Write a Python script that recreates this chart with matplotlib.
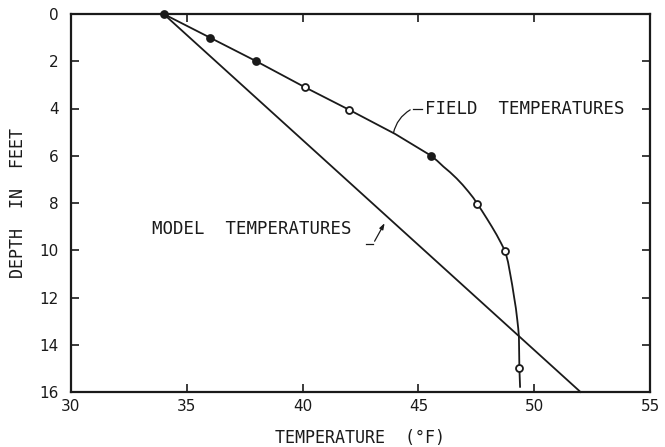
import numpy as np
import matplotlib
matplotlib.use("Agg")
import matplotlib.pyplot as plt

# measured field temperatures (deg F) vs depth (ft)
field_temp = [34.0, 36.0, 38.0, 40.1, 42.0, 45.55, 47.55, 48.75, 49.36]
field_depth = [0.0, 1.0, 2.0, 3.1, 4.05, 6.0, 8.04, 10.05, 15.0]
field_filled = [True, True, True, False, False, True, False, False, False]

# hand-drawn curve through the field points
curve_temp = [34.0, 36.0, 38.0, 40.1, 42.0, 44.0, 45.55, 45.82, 46.08,
              46.37, 46.65, 46.91, 47.16, 47.37, 47.55, 47.75, 47.95,
              48.17, 48.38, 48.57, 48.75, 48.87, 48.96, 49.05, 49.13,
              49.21, 49.27, 49.31, 49.34, 49.35, 49.36, 49.39]
curve_depth = [0.0, 1.0, 2.0, 3.1, 4.05, 5.08, 6.0, 6.22, 6.46,
               6.7, 6.96, 7.23, 7.52, 7.78, 8.04, 8.34, 8.65,
               9.0, 9.35, 9.7, 10.05, 10.5, 10.98, 11.47, 11.97,
               12.46, 12.95, 13.3, 13.66, 14.3, 15.0, 15.78]

# model temperatures: straight line
model_temp = [34.0, 52.0]
model_depth = [0.0, 16.0]

xticks = [30, 35, 40, 45, 50, 55]
yticks = [0, 2, 4, 6, 8, 10, 12, 14, 16]

fig = plt.figure(figsize=(6.65, 4.47), dpi=100)
ax = fig.add_axes([71 / 665, 1 - 392 / 447, 579 / 665, 378 / 447])

ax.plot(curve_temp, curve_depth, color="#1a1a1a", lw=1.3,
        solid_joinstyle="round", clip_on=False)
ax.plot(model_temp, model_depth, color="#1a1a1a", lw=1.3, clip_on=False)
for t, d, f in zip(field_temp, field_depth, field_filled):
    ax.plot(t, d, "o", ms=5, mew=1.3, mec="#1a1a1a",
            mfc="#1a1a1a" if f else "white", zorder=3, clip_on=False)

ax.set_xlim(30, 55)
ax.set_ylim(16, 0)
ax.set_xticks(xticks)
ax.set_yticks(yticks)
ax.tick_params(direction="in", length=6, width=1.2, labelsize=11,
               colors="#1a1a1a", pad=9)
ax.tick_params(axis="x", pad=5)
ax.tick_params(top=True, right=True)
for sp in ax.spines.values():
    sp.set_linewidth(1.6)
    sp.set_color("#1a1a1a")

mono = "DejaVu Sans Mono"
ax.text(45.3, 4.0, "FIELD  TEMPERATURES", family=mono, fontsize=12.5,
        va="center", ha="left", color="#1a1a1a")
ax.annotate("", xy=(43.9, 5.15), xytext=(44.75, 4.0),
            arrowprops=dict(arrowstyle="-", lw=0.9, color="#1a1a1a",
                            connectionstyle="arc3,rad=0.25"))
ax.plot([44.75, 45.15], [4.0, 4.0], color="#1a1a1a", lw=0.9)

ax.text(33.5, 9.1, "MODEL  TEMPERATURES", family=mono, fontsize=12.5,
        va="center", ha="left", color="#1a1a1a")
ax.plot([42.75, 43.05], [9.72, 9.72], color="#1a1a1a", lw=0.9)
ax.annotate("", xy=(43.6, 8.75), xytext=(43.05, 9.72),
            arrowprops=dict(arrowstyle="-|>,head_length=0.35,head_width=0.12",
                            lw=0.9, color="#1a1a1a"))

fig.text(18 / 665, 1 - 203 / 447, "DEPTH  IN  FEET", family=mono,
         fontsize=12, rotation=90, va="center", ha="center", color="#1a1a1a")
fig.text(360 / 665, 1 - 429 / 447, "TEMPERATURE  (°F)", family=mono,
         fontsize=12, va="top", ha="center", color="#1a1a1a")

fig.savefig("out.png", dpi=100)
